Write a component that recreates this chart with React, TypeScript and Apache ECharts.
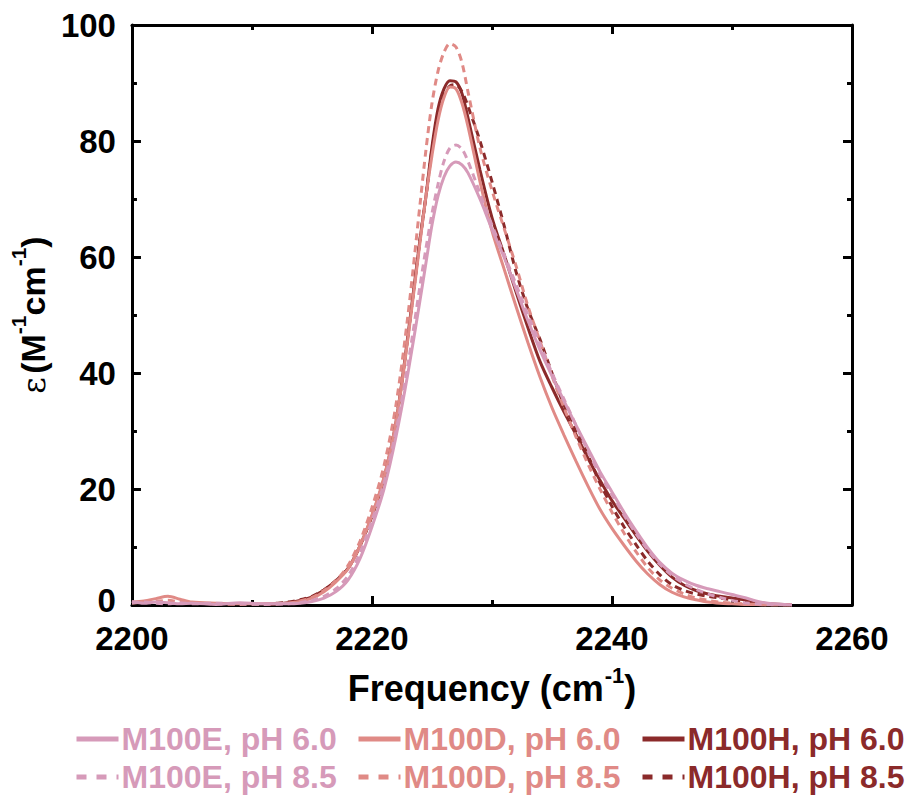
import React, { useEffect, useRef } from "react";
import * as echarts from "echarts";

// Frequency grid (cm^-1)
const freq = [2200, 2201, 2202, 2203, 2204, 2205, 2207, 2209, 2211, 2213, 2214, 2215, 2216, 2217, 2218, 2219, 2220, 2221, 2222, 2223, 2224, 2224.5, 2225, 2225.5, 2226, 2226.5, 2227, 2227.5, 2228, 2229, 2230, 2231, 2232, 2233, 2234, 2235, 2236, 2237, 2238, 2239, 2240, 2241, 2242, 2243, 2244, 2245, 2246, 2247, 2248, 2249, 2250, 2251, 2252, 2253, 2255];

const m100E_pH60 = [0.6, 0.3, 0.5, 0.4, 0.2, 0.3, 0.1, 0.4, 0.2, 0.2, 0.3, 0.6, 1.2, 2.3, 4.3, 8, 13.5, 20, 29, 40, 52.5, 59, 65.5, 70.5, 73.8, 75.7, 76.4, 75.9, 74.5, 70, 64.8, 60, 54.5, 49, 44, 39.5, 35.2, 31, 27, 23, 19.5, 16, 12.8, 9.8, 7.3, 5.5, 4.3, 3.4, 2.8, 2.3, 1.8, 1.3, 0.7, 0.3, 0];
const m100E_pH85 = [0.4, 0.5, 0.3, 0.2, 0.4, 0.2, 0.3, 0.2, 0.1, 0.2, 0.4, 0.8, 1.5, 2.8, 5, 9, 14.5, 21, 30, 41.5, 55, 61.5, 67.5, 72.5, 76.5, 78.8, 79.3, 78.6, 76.5, 71, 65.5, 60.5, 55.3, 50, 45, 40, 35.5, 31, 26.5, 22.5, 19, 15.5, 12.3, 9.4, 7, 5.1, 3.7, 2.7, 1.9, 1.3, 0.8, 0.4, 0.2, 0.1, 0];
const m100D_pH60 = [0.5, 0.7, 1.1, 1.5, 1.0, 0.5, 0.3, 0.2, 0.2, 0.3, 0.6, 1.2, 2.3, 4.0, 6.2, 10.2, 15.5, 22, 31.5, 46, 62.5, 70.5, 77.5, 83.5, 87.5, 89.3, 89, 86.5, 82.5, 73, 64.5, 58, 51.5, 45.2, 39.3, 34, 29.3, 24.8, 20.5, 16.5, 13.2, 10.3, 7.6, 5.3, 3.5, 2.2, 1.4, 0.9, 0.5, 0.3, 0.2, 0.1, 0.1, 0, 0];
const m100D_pH85 = [0.3, 0.5, 0.6, 0.8, 0.5, 0.3, 0.2, 0.1, 0.2, 0.3, 0.7, 1.3, 2.5, 4.2, 6.8, 11, 16.8, 24, 34.5, 50, 69, 78.5, 86.5, 92, 95.3, 96.8, 96.2, 93.5, 88.5, 78.8, 71.5, 65, 58.5, 51.5, 45.5, 39.5, 34, 29, 24.3, 20, 16, 12.4, 9.2, 6.4, 4.3, 2.9, 1.9, 1.2, 0.8, 0.5, 0.3, 0.2, 0.1, 0, 0];
const m100H_pH60 = [null, null, null, null, null, null, null, null, 0.1, 0.4, 0.8, 1.4, 2.6, 4.2, 6.3, 10.2, 15.3, 21.8, 31.5, 46.5, 63, 70.5, 79, 85.5, 89, 90.4, 90.2, 88.2, 84, 75, 66.8, 60.5, 54, 47.8, 42, 37.5, 33.3, 29.4, 25.3, 21.5, 18, 15, 12, 9.2, 6.8, 4.8, 3.4, 2.5, 1.9, 1.5, 1.2, 0.9, 0.5, 0.2, 0];
const m100H_pH85 = [null, null, null, null, null, null, null, null, 0.1, 0.5, 0.9, 1.5, 2.6, 4.2, 6.3, 10.2, 15.5, 22, 31.8, 46.5, 63, 70.5, 78.5, 84.5, 88, 89.5, 89.7, 88.5, 86, 80, 73, 65.5, 57.5, 51, 45.8, 40, 34.5, 30.3, 25.8, 21, 17, 13.5, 10.4, 7.5, 5.2, 3.5, 2.5, 1.9, 1.5, 1.2, 0.9, 0.6, 0.3, 0.1, 0];

const seriesNames = ["M100E, pH 6.0", "M100E, pH 8.5", "M100D, pH 6.0", "M100D, pH 8.5", "M100H, pH 6.0", "M100H, pH 8.5"];
const seriesValues = [m100E_pH60, m100E_pH85, m100D_pH60, m100D_pH85, m100H_pH60, m100H_pH85];
const colE = "#D69AB9";
const colD = "#E08A86";
const colH = "#8B2A2A";
const seriesColors = [colE, colE, colD, colD, colH, colH];
const seriesDashed = [false, true, false, true, false, true];

const FONT = "'Liberation Sans', Arial, sans-serif";

export default function App() {
  const ref = useRef<HTMLDivElement>(null);
  useEffect(() => {
    if (!ref.current) return;
    const chart = echarts.init(ref.current, undefined, { renderer: "svg" });
    const axisCommon = {
      axisLine: { show: true, onZero: false, lineStyle: { color: "#000", width: 3 } },
      axisTick: { show: true, inside: true, length: 9, lineStyle: { color: "#000", width: 3 } },
      minorTick: { show: true, splitNumber: 2, length: 5, lineStyle: { color: "#000", width: 3 } },
      splitLine: { show: false },
    };
    const xBase = { ...axisCommon, type: "value", min: 2200, max: 2260, interval: 20 };
    const yBase = { ...axisCommon, type: "value", min: 0, max: 100, interval: 20 };
    const series = seriesNames.map((name, i) => ({
      name,
      type: "line",
      xAxisIndex: 0,
      yAxisIndex: 0,
      symbol: "none",
      smooth: 0.3,
      z: 10 - i,
      data: freq.map((f, j) => [f, seriesValues[i][j]]),
      lineStyle: { color: seriesColors[i], width: 3, type: seriesDashed[i] ? [7, 5] : "solid" },
      itemStyle: { color: seriesColors[i] },
    }));
    const legendCols = [
      { left: 74, names: [seriesNames[0], seriesNames[1]], color: colE },
      { left: 356, names: [seriesNames[2], seriesNames[3]], color: colD },
      { left: 640, names: [seriesNames[4], seriesNames[5]], color: colH },
    ];
    const yLabelStyle = { fontSize: 33, fontWeight: "bold", fontFamily: FONT, color: "#000" };
    chart.setOption({
      animation: false,
      backgroundColor: "#fff",
      grid: { left: 131, right: 57, top: 25, bottom: 191, containLabel: false },
      xAxis: [
        {
          ...xBase,
          position: "bottom",
          axisLabel: { show: true, margin: 17, color: "#000", fontSize: 33, fontWeight: "bold", fontFamily: FONT, formatter: (v: number) => String(v) },
          name: "{t|Frequency (cm}{s|-1}{t|)}",
          nameLocation: "middle",
          nameGap: 59,
          nameTextStyle: {
            rich: {
              t: { fontSize: 36, fontWeight: "bold", fontFamily: FONT, color: "#000", lineHeight: 42, verticalAlign: "bottom" },
              s: { fontSize: 22, fontWeight: "bold", fontFamily: FONT, color: "#000", lineHeight: 42, verticalAlign: "top", padding: [0, 0, 0, 1] },
            },
          },
        },
        { ...xBase, position: "top", axisLabel: { show: false } },
      ],
      yAxis: [
        {
          ...yBase,
          position: "left",
          axisLabel: {
            show: true,
            margin: 16,
            ...yLabelStyle,
            formatter: (v: number) => (v === 0 ? "{z|0}" : "{n|" + v + "}"),
            rich: {
              n: { ...yLabelStyle },
              z: { ...yLabelStyle, padding: [0, 0, 9, 0] },
            },
          },
          name: "{e|ε} {t|(M}{s|-1}{t|cm}{s|-1}{t|)}",
          nameLocation: "middle",
          nameGap: 76,
          nameRotate: 90,
          nameTextStyle: {
            rich: {
              e: { fontSize: 32, fontFamily: "'DejaVu Serif', serif", color: "#000", lineHeight: 42, verticalAlign: "bottom" },
              t: { fontSize: 34, fontWeight: "bold", fontFamily: FONT, color: "#000", lineHeight: 42, verticalAlign: "bottom" },
              s: { fontSize: 21, fontWeight: "bold", fontFamily: FONT, color: "#000", lineHeight: 42, verticalAlign: "top" },
            },
          },
        },
        { ...yBase, position: "right", axisLabel: { show: false } },
      ],
      legend: legendCols.map((c) => ({
        left: c.left,
        top: 723,
        orient: "vertical",
        itemWidth: 42,
        itemHeight: 14,
        itemGap: 6,
        padding: 0,
        data: [
          { name: c.names[0], lineStyle: { width: 5, type: "solid" } },
          { name: c.names[1], lineStyle: { width: 5, type: [10, 10] } },
        ],
        itemStyle: { opacity: 0 },
        lineStyle: { width: 5 },
        textStyle: { color: c.color, fontSize: 32, fontWeight: "bold", fontFamily: FONT, padding: [0, 0, 0, -2] },
      })),
      series,
    });
    return () => chart.dispose();
  }, []);
  return <div ref={ref} style={{ width: 909, height: 796, position: "absolute", left: 0, top: 0 }} />;
}
